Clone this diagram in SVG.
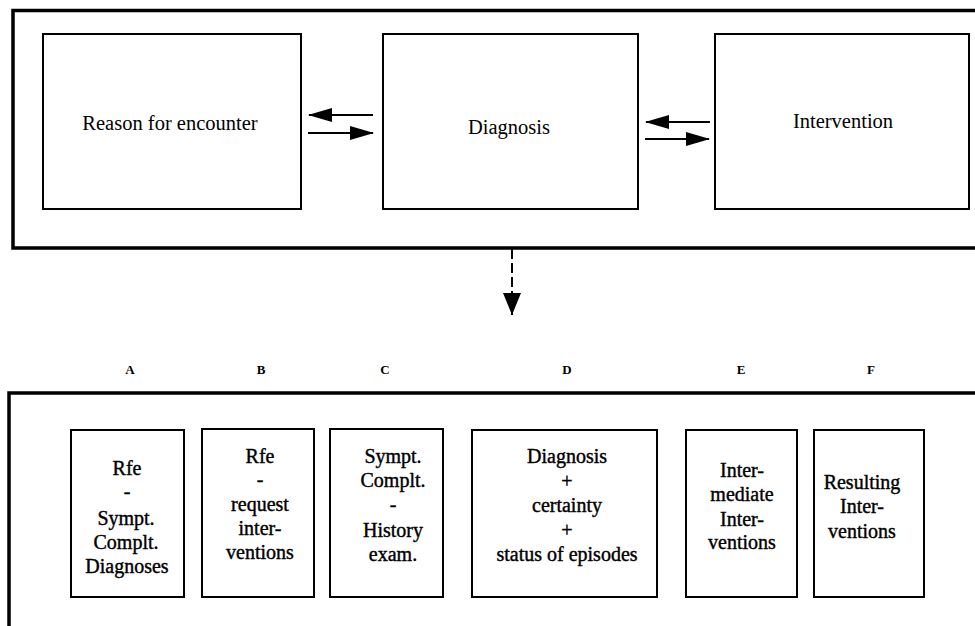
<svg xmlns="http://www.w3.org/2000/svg" width="975" height="626" viewBox="0 0 975 626">
<defs>
<style>
.frame{fill:none;stroke:#000;stroke-width:3.5}
.box{fill:#fff;stroke:#000;stroke-width:2}
.arr{fill:none;stroke:#000;stroke-width:2}
</style>
<marker id="ah" markerWidth="24" markerHeight="14" refX="23" refY="7" orient="auto" markerUnits="userSpaceOnUse">
<path d="M0,0 L24,7 L0,14 Z" fill="#000"/>
</marker>
<marker id="ahd" markerWidth="22" markerHeight="18" refX="22" refY="9" orient="auto" markerUnits="userSpaceOnUse">
<path d="M0,0 L22,9 L0,18 Z" fill="#000"/>
</marker>
</defs>

<g id="top-frame">
<path class="frame" d="M977,10.5 L13,10.5 L13,248 L977,248"/>
</g>

<g font-family="'Liberation Serif', 'DejaVu Serif', serif" font-size="20.5" text-anchor="middle" fill="#000">
<g id="node-rfe">
<rect class="box" x="43" y="34" width="258" height="175"/>
<text x="170" y="130">Reason for encounter</text>
</g>
<g id="node-diagnosis">
<rect class="box" x="383" y="34" width="255" height="175"/>
<text x="509" y="134">Diagnosis</text>
</g>
<g id="node-intervention">
<rect class="box" x="715" y="34" width="254" height="175"/>
<text x="843" y="128">Intervention</text>
</g>
</g>

<g id="connectors">
<line class="arr" x1="373" y1="115" x2="309" y2="115" marker-end="url(#ah)"/>
<line class="arr" x1="308" y1="133" x2="373" y2="133" marker-end="url(#ah)"/>
<line class="arr" x1="710" y1="122" x2="646" y2="122" marker-end="url(#ah)"/>
<line class="arr" x1="645" y1="139" x2="709" y2="139" marker-end="url(#ah)"/>
<line class="arr" x1="512" y1="249" x2="512" y2="315" stroke-dasharray="10,4" marker-end="url(#ahd)"/>
</g>

<g id="bottom-frame">
<path class="frame" d="M9,626 L9,393 L977,393"/>
</g>

<g id="labels" font-family="'Liberation Serif', 'DejaVu Serif', serif" font-size="13" font-weight="bold" text-anchor="middle" fill="#000">
<text x="130" y="374">A</text>
<text x="261" y="374">B</text>
<text x="385" y="374">C</text>
<text x="567" y="374">D</text>
<text x="741" y="374">E</text>
<text x="871" y="374">F</text>
</g>

<g font-family="'Liberation Serif', 'DejaVu Serif', serif" font-size="20" text-anchor="middle" fill="#000" stroke="#000" stroke-width="0.4">
<g id="node-a">
<rect class="box" x="71" y="430" width="113" height="167"/>
<text x="127" y="475">Rfe</text>
<text x="127" y="498">-</text>
<text x="126" y="525">Sympt.</text>
<text x="126" y="549">Complt.</text>
<text x="127" y="573">Diagnoses</text>
</g>
<g id="node-b">
<rect class="box" x="202" y="429" width="112" height="168"/>
<text x="260" y="463">Rfe</text>
<text x="260" y="486">-</text>
<text x="260" y="511">request</text>
<text x="260" y="535">inter-</text>
<text x="260" y="559">ventions</text>
</g>
<g id="node-c">
<rect class="box" x="330" y="429" width="113" height="168"/>
<text x="393" y="463">Sympt.</text>
<text x="393" y="487">Complt.</text>
<text x="393" y="511">-</text>
<text x="393" y="537">History</text>
<text x="393" y="561">exam.</text>
</g>
<g id="node-d">
<rect class="box" x="472" y="430" width="185" height="167"/>
<text x="567" y="463">Diagnosis</text>
<text x="567" y="488">+</text>
<text x="567" y="512">certainty</text>
<text x="567" y="537">+</text>
<text x="567" y="561">status of episodes</text>
</g>
<g id="node-e">
<rect class="box" x="686" y="430" width="111" height="167"/>
<text x="742" y="477">Inter-</text>
<text x="742" y="501">mediate</text>
<text x="742" y="526">Inter-</text>
<text x="742" y="549">ventions</text>
</g>
<g id="node-f">
<rect class="box" x="814" y="430" width="110" height="167"/>
<text x="862" y="489">Resulting</text>
<text x="862" y="513">Inter-</text>
<text x="862" y="538">ventions</text>
</g>
</g>
</svg>
